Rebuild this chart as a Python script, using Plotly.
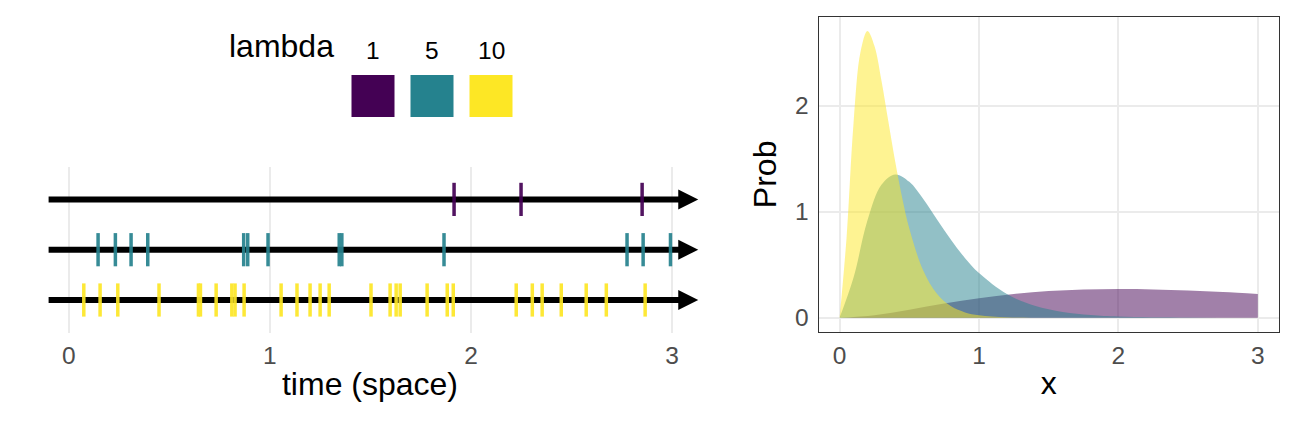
import plotly.graph_objects as go

W, H = 1296, 421
FONT = "Liberation Sans"
OFF = 8  # page offset of the plot inside the browser window
TITLE_SIZE = 32
TICK_SIZE = 24.5

# ---- data ----
lambdas = ["1", "5", "10"]
colors = ["#440154", "#25828E", "#FDE725"]
row_y = [3, 2, 1]  # vertical position of each lambda's timeline

events_l1 = [1.916, 2.249, 2.851]
events_l5 = [0.146, 0.232, 0.310, 0.393, 0.870, 0.890, 0.991, 1.345, 1.358,
             1.866, 2.776, 2.856, 2.992]
events_l10 = [0.075, 0.156, 0.244, 0.449, 0.645, 0.655, 0.733, 0.811, 0.827,
              0.872, 1.056, 1.135, 1.200, 1.250, 1.295, 1.503, 1.598, 1.628,
              1.648, 1.782, 1.882, 1.912, 2.225, 2.305, 2.354, 2.449, 2.573,
              2.673, 2.866]
events = [events_l1, events_l5, events_l10]

arrow_start = -0.1
arrow_end = 3.13
time_ticks = [0, 1, 2, 3]

# densities
x_l1 = [0, 0.25, 0.5, 0.75, 1.0, 1.25, 1.5, 1.75, 2.0, 2.25, 2.5, 2.75, 3.0]
p_l1 = [0, 0.024, 0.076, 0.133, 0.184, 0.224, 0.251, 0.266, 0.271, 0.267, 0.257, 0.242, 0.224]

x_l5 = [0, 0.1, 0.2, 0.3, 0.4, 0.5, 0.6, 0.7, 0.8, 0.9, 1.0, 1.2, 1.4, 1.6, 1.8, 2.0, 2.5, 3.0]
p_l5 = [0, 0.379, 0.920, 1.255, 1.353, 1.283, 1.120, 0.925, 0.733, 0.562, 0.421, 0.223, 0.112, 0.054, 0.025, 0.011, 0.0015, 0.0]

x_l10 = [0, 0.05, 0.1, 0.15, 0.2, 0.25, 0.3, 0.35, 0.4, 0.45, 0.5, 0.6, 0.7, 0.8, 0.9, 1.0, 1.2, 1.5, 2.0, 3.0]
p_l10 = [0, 0.758, 1.839, 2.510, 2.707, 2.565, 2.240, 1.850, 1.465, 1.125, 0.842, 0.446, 0.223, 0.107, 0.050, 0.023, 0.004, 0.0, 0.0, 0.0]

dens_x = [x_l1, x_l5, x_l10]
dens_p = [p_l1, p_l5, p_l10]
fills = ["rgba(68,1,84,0.5)", "rgba(37,130,142,0.5)", "rgba(253,231,37,0.5)"]

fig = go.Figure()

# timelines (shaft)
for ry in row_y:
    fig.add_trace(go.Scatter(x=[arrow_start, arrow_end - 0.08], y=[ry, ry], mode="lines",
                             line=dict(color="black", width=6), hoverinfo="skip",
                             showlegend=False, xaxis="x", yaxis="y"))

# event ticks
tick_half = 0.33
for ev, ry, c, lab in zip(events, row_y, colors, lambdas):
    xs, ys = [], []
    for t in ev:
        xs += [t, t, None]
        ys += [ry - tick_half, ry + tick_half, None]
    fig.add_trace(go.Scatter(x=xs, y=ys, mode="lines", line=dict(color=c, width=3.5),
                             opacity=0.92, name=lab, showlegend=False, xaxis="x", yaxis="y"))

# densities
for xv, pv, f, lab in zip(dens_x, dens_p, fills, lambdas):
    fig.add_trace(go.Scatter(x=xv, y=pv, mode="lines", fill="tozeroy", fillcolor=f,
                             line=dict(width=0, shape="spline", color=f), name=lab,
                             showlegend=False, xaxis="x2", yaxis="y2"))

annotations = []
# arrow heads
for ry in row_y:
    annotations.append(dict(x=arrow_end, y=ry, ax=arrow_end - 0.06, ay=ry, xref="x", yref="y",
                             axref="x", ayref="y", showarrow=True, arrowhead=2,
                             arrowwidth=1, arrowsize=4, arrowcolor="black", text="", standoff=0))

def px(xp):
    return (xp - OFF) / W

def py(yp):
    return 1 - (yp - OFF) / H

# legend
annotations.append(dict(x=px(281), y=py(46), xref="paper", yref="paper", text="lambda",
                        showarrow=False, font=dict(size=TITLE_SIZE, color="black", family=FONT),
                        xanchor="center", yanchor="middle"))
key_x = [373, 432, 491]
shapes = []
for kx, c, lab in zip(key_x, colors, lambdas):
    annotations.append(dict(x=px(kx), y=py(50), xref="paper", yref="paper", text=lab,
                            showarrow=False, font=dict(size=TICK_SIZE, color="black", family=FONT),
                            xanchor="center", yanchor="middle"))
    shapes.append(dict(type="rect", xref="paper", yref="paper", x0=px(kx - 21.5), x1=px(kx + 21.5),
                       y0=py(117), y1=py(75), fillcolor=c, line=dict(width=0)))

fig.update_layout(
    width=W, height=H, margin=dict(l=0, r=0, t=0, b=0),
    paper_bgcolor="white", plot_bgcolor="white",
    font=dict(family=FONT, color="#4D4D4D"),
    annotations=annotations, shapes=shapes,
    xaxis=dict(domain=[px(12), px(728)], range=[-0.282, 3.278], tickvals=time_ticks,
               showgrid=True, gridcolor="#EBEBEB", gridwidth=2, zeroline=False,
               showline=False, ticks="outside", ticklen=1, tickcolor="rgba(0,0,0,0)",
               tickfont=dict(size=TICK_SIZE, color="#4D4D4D"),
               title=dict(text="time (space)", font=dict(size=TITLE_SIZE, color="black"), standoff=4)),
    yaxis=dict(domain=[py(332.7), py(166.7)], range=[0.35, 3.65], showgrid=False,
               zeroline=False, showticklabels=False, ticks=""),
    xaxis2=dict(domain=[px(818.7), px(1278.7)], range=[-0.15, 3.15], anchor="y2",
                tickvals=[0, 1, 2, 3], showgrid=True, gridcolor="#EBEBEB", gridwidth=2,
                zeroline=False, showline=True, mirror=True, linecolor="#333333", linewidth=1.3,
                ticks="outside", ticklen=1, tickcolor="rgba(0,0,0,0)",
                tickfont=dict(size=TICK_SIZE, color="#4D4D4D"),
                title=dict(text="x", font=dict(size=TITLE_SIZE, color="black"), standoff=4)),
    yaxis2=dict(domain=[py(332), py(16.7)], range=[-0.135, 2.842], anchor="x2",
                tickvals=[0, 1, 2], showgrid=True, gridcolor="#EBEBEB", gridwidth=2,
                zeroline=False, showline=True, mirror=True, linecolor="#333333", linewidth=1.3,
                ticks="outside", ticklen=4, tickcolor="rgba(0,0,0,0)",
                tickfont=dict(size=TICK_SIZE, color="#4D4D4D"),
                title=dict(text="Prob", font=dict(size=TITLE_SIZE, color="black"), standoff=8)),
)

fig.write_html("out.html")
